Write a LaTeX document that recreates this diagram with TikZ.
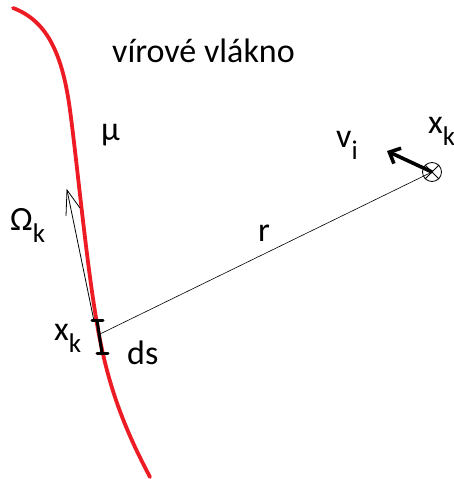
\documentclass[tikz,border=0pt]{standalone}
\usepackage{fontspec}
\setmainfont{Carlito}
\usetikzlibrary{arrows.meta,positioning,calc}
\definecolor{filred}{RGB}{237,28,36}
\newcommand{\lowidx}[1]{\raisebox{-12pt}{\fontsize{27}{30}\selectfont #1}}
\tikzset{
  lbl/.style={font=\fontsize{34}{40}\selectfont,inner sep=0pt,anchor=base west},
  vortex/.style={filred,line width=3.8pt,line cap=round},
  tick/.style={line width=3pt,line cap=round},
}
\begin{document}
\begin{tikzpicture}[x=1pt,y=-1pt]
\useasboundingbox (0,0) rectangle (453,479);
\clip (0,0) rectangle (453,479);
% the vortex filament
\draw[vortex] (13,8) .. controls (45,20) and (62,50) .. (70,110)
  .. controls (78,170) and (88,280) .. (100,340)
  .. controls (110,390) and (125,430) .. (150,477);
% element ds on the filament
\coordinate (dsa) at (97,320);
\coordinate (dsb) at (102,353);
\coordinate (xk) at (100,334);
\draw[tick] (dsa) -- (dsb);
\draw[tick] ($(dsa)+(-5,0)$) -- ($(dsa)+(6,0)$);
\draw[tick] ($(dsb)+(-5,0)$) -- ($(dsb)+(6,0)$);
% Omega_k
\coordinate (otip) at (67,190);
\draw[thick] (94,321) -- (otip);
\draw[thick] (66,216) -- (otip) -- (80,208);
% field point x_k'
\node[draw,thick,circle,minimum size=19pt,inner sep=0pt] (pt) at (432,172) {};
\draw[thick] (pt.north west) -- (pt.south east) (pt.north east) -- (pt.south west);
\draw[semithick] (xk) -- (pt.center);
% induced velocity
\coordinate (vtip) at (387,151);
\draw[line width=3.6pt,-{Straight Barb[length=9pt,width=17pt]}] (pt.center) -- (vtip);
% labels
\node[lbl] (title) at (112,62) {vírové vlákno};
\node[lbl] (mu) at (101,140) {μ};
\node[lbl] (vi) at (336,147) {v\lowidx{i}};
\node[lbl] (xkp) at (428,133) {x\lowidx{k}\raisebox{8pt}{\fontsize{20}{24}\selectfont\kern1pt'}};
\node[lbl] (om) at (10,230) {Ω\lowidx{k}};
\node[lbl] (r) at (258,241) {r};
\node[lbl] (xklbl) at (54,340) {x\lowidx{k}};
\node[lbl] (ds) at (127,364) {ds};
\end{tikzpicture}
\end{document}
